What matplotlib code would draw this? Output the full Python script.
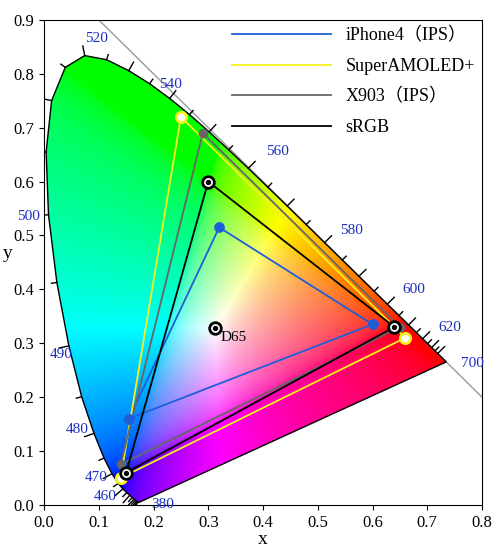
import numpy as np
import matplotlib
matplotlib.use("Agg")
import matplotlib.pyplot as plt
from matplotlib.path import Path
from matplotlib.patches import PathPatch

wl = [380,385,390,395,400,405,410,415,420,425,430,435,440,445,450,455,460,465,470,475,480,485,490,495,500,505,510,515,520,525,530,535,540,545,550,555,560,565,570,575,580,585,590,595,600,605,610,615,620,625,630,635,640,645,650,655,660,665,670,680,690,700]
lx = [0.1741,0.1740,0.1738,0.1736,0.1733,0.1730,0.1726,0.1721,0.1714,0.1703,0.1689,0.1669,0.1644,0.1611,0.1566,0.1510,0.1440,0.1355,0.1241,0.1096,0.0913,0.0687,0.0454,0.0235,0.0082,0.0039,0.0139,0.0389,0.0743,0.1142,0.1547,0.1929,0.2296,0.2658,0.3016,0.3373,0.3731,0.4087,0.4441,0.4788,0.5125,0.5448,0.5752,0.6029,0.6270,0.6482,0.6658,0.6801,0.6915,0.7006,0.7079,0.7140,0.7190,0.7230,0.7260,0.7283,0.7300,0.7311,0.7320,0.7334,0.7344,0.7347]
ly = [0.0050,0.0050,0.0049,0.0049,0.0048,0.0048,0.0048,0.0048,0.0051,0.0058,0.0069,0.0086,0.0109,0.0138,0.0177,0.0227,0.0297,0.0399,0.0578,0.0868,0.1327,0.2007,0.2950,0.4127,0.5384,0.6548,0.7502,0.8120,0.8338,0.8262,0.8059,0.7816,0.7543,0.7243,0.6923,0.6589,0.6245,0.5896,0.5547,0.5202,0.4866,0.4544,0.4242,0.3965,0.3725,0.3514,0.3340,0.3197,0.3083,0.2993,0.2920,0.2859,0.2809,0.2770,0.2740,0.2717,0.2700,0.2689,0.2680,0.2666,0.2656,0.2653]

label_wl = [380,460,470,480,490,500,520,540,560,580,600,620,700]
label_xy = [(0.195,0.0),(0.09,0.015),(0.075,0.05),(0.04,0.14),(0.01,0.28),(-0.05,0.535),(0.075,0.865),(0.21,0.78),(0.405,0.655),(0.54,0.51),(0.655,0.4),(0.72,0.33),(0.762,0.262)]

names = ["iPhone4（IPS）","SuperAMOLED+","X903（IPS）","sRGB"]
colors = ["#1e5fd8","#f5f020","#666666","#000000"]
gx = [[0.32,0.60,0.155],[0.25,0.66,0.14],[0.29,0.65,0.14],[0.30,0.64,0.15]]
gy = [[0.515,0.335,0.16],[0.72,0.31,0.05],[0.69,0.33,0.075],[0.60,0.33,0.06]]
d65 = (0.3127,0.329)

plt.rcParams['font.family'] = ['Liberation Serif','Noto Sans CJK SC']
fig = plt.figure(figsize=(5.0,5.53), dpi=100)
ax = fig.add_axes([0.088,0.087,0.876,0.877])
ax.set_xlim(0,0.8); ax.set_ylim(0,0.9)

N = 400
xs = np.linspace(0,0.8,N); ys = np.linspace(0,0.9,N)
X, Y = np.meshgrid(xs, ys)
Yc = np.maximum(Y,1e-4)
XX = X/Yc; ZZ = (1-X-Y)/Yc
M = np.array([[3.2406,-1.5372,-0.4986],[-0.9689,1.8758,0.0415],[0.0557,-0.2040,1.0570]])
rgb = np.stack([XX,np.ones_like(XX),ZZ],-1) @ M.T
rgb = np.clip(rgb,0,None)
rgb = rgb/np.maximum(rgb.max(-1,keepdims=True),1e-6)
rgb = np.where(rgb<=0.0031308,12.92*rgb,1.055*rgb**(1/2.4)-0.055)
rgb = np.clip(rgb,0,1)
verts = list(zip(lx,ly))+[(lx[0],ly[0])]
path = Path(verts)
im = ax.imshow(rgb, origin='lower', extent=[0,0.8,0,0.9], aspect='auto', zorder=1)
patch = PathPatch(path, facecolor='none', edgecolor='black', lw=1.0, zorder=3)
ax.add_patch(patch); im.set_clip_path(patch)

ax.plot([0.1,0.8],[0.9,0.2],color='#999999',lw=1,zorder=2)

px = np.array(lx); py = np.array(ly); cx, cy = 0.33,0.33
for i in range(1,len(wl)-1):
    if wl[i] > 640 or wl[i] < 420:
        continue
    tx = px[i+1]-px[i-1]; ty = py[i+1]-py[i-1]
    n = np.array([ty,-tx]); n = n/np.hypot(*n)
    if (px[i]-cx)*n[0]+(py[i]-cy)*n[1] < 0: n = -n
    L = 0.018 if wl[i]%10==0 else 0.01
    ax.plot([px[i],px[i]+n[0]*L],[py[i],py[i]+n[1]*L],color='black',lw=1,zorder=3)
for w,(tx_,ty_) in zip(label_wl,label_xy):
    ax.text(tx_,ty_,str(w),color='#1a2ec0',fontsize=11,ha='left',va='center',zorder=5,clip_on=False)

for nm,c,x,y in zip(names,colors,gx,gy):
    ax.plot(x+[x[0]],y+[y[0]],color=c,lw=1.3,label=nm,zorder=4)
ax.scatter(gx[0],gy[0],s=45,color=colors[0],zorder=6)
ax.scatter(gx[2],gy[2],s=35,color=colors[2],zorder=6)
ax.scatter(gx[1],gy[1],s=55,facecolor='white',edgecolor=colors[1],lw=2,zorder=6)
ax.scatter(gx[3],gy[3],s=70,facecolor='white',edgecolor='black',lw=2,zorder=6)
ax.scatter(gx[3],gy[3],s=8,color='black',zorder=7)
ax.scatter([d65[0]],[d65[1]],s=70,facecolor='white',edgecolor='black',lw=2,zorder=6)
ax.scatter([d65[0]],[d65[1]],s=8,color='black',zorder=7)
ax.text(d65[0]+0.01,d65[1]-0.025,"D65",fontsize=11,zorder=7)

ax.legend(loc='upper right',frameon=False,fontsize=13,handlelength=5.5,labelspacing=0.75,borderaxespad=0.0)
ax.set_xticks(np.arange(0,0.81,0.1)); ax.set_yticks(np.arange(0,0.91,0.1))
ax.set_xticklabels([f"{v:.1f}" for v in np.arange(0,0.81,0.1)],fontsize=12)
ax.set_yticklabels([f"{v:.1f}" for v in np.arange(0,0.91,0.1)],fontsize=12)
ax.set_xlabel("x",fontsize=14,labelpad=0); ax.set_ylabel("y",fontsize=14,rotation=0,labelpad=4)
fig.savefig("out.png",dpi=100)
